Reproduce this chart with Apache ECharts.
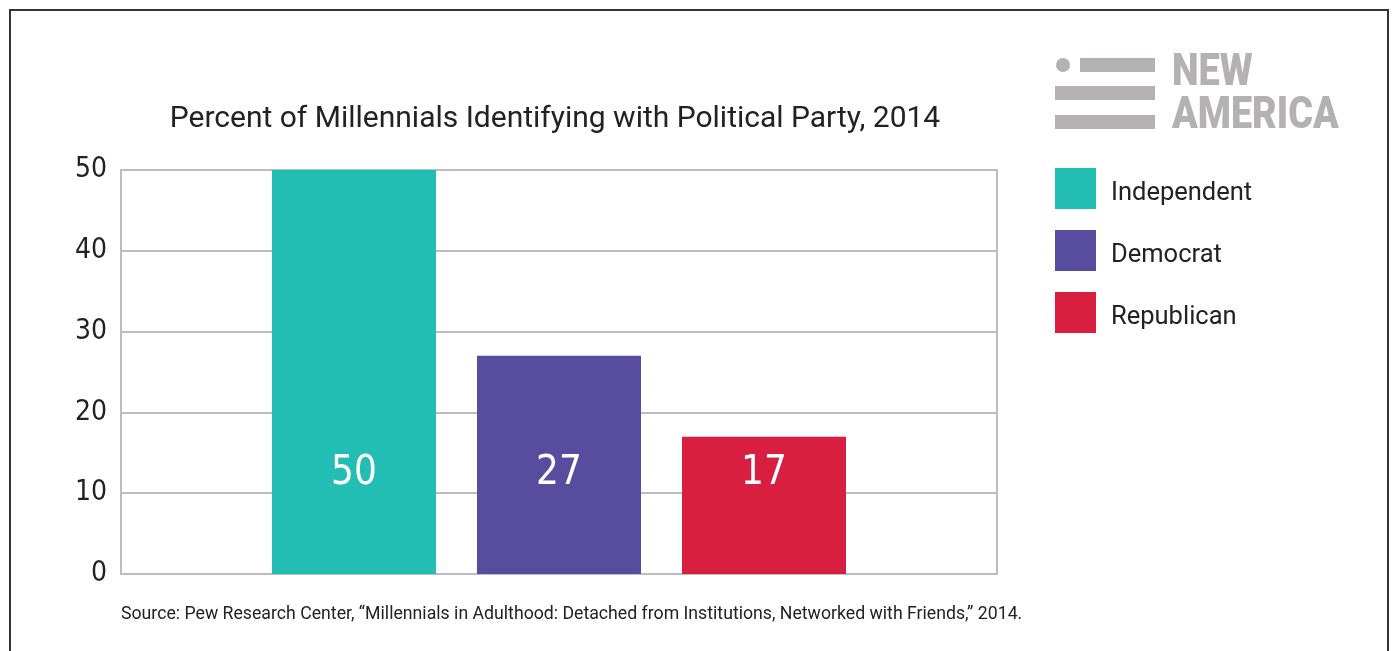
<!DOCTYPE html>
<html>
<head>
<meta charset="utf-8">
<script src="https://cdn.jsdelivr.net/npm/echarts@6/dist/echarts.min.js"></script>
<style>
html,body{margin:0;padding:0;background:#fff;}
#chart{width:1394px;height:651px;}
</style>
</head>
<body>
<div id="chart"></div>
<script>
const categories = [''];
const seriesNames = ['Independent', 'Democrat', 'Republican'];
const seriesValues = [[50], [27], [17]];
const seriesColors = ['#22bdb3', '#574c9e', '#d81f3f'];
const yTicks = { min: 0, max: 50, interval: 10 };
const titleText = 'Percent of Millennials Identifying with Political Party, 2014';
const sourceText = 'Source: Pew Research Center, \u201cMillennials in Adulthood: Detached from Institutions, Networked with Friends,\u201d 2014.';

const gridColor = '#bcbcc2';
const textFont = 'Roboto, "Noto Sans", sans-serif';
const narrowFont = '"DejaVu Sans Condensed", "Liberation Sans Narrow", sans-serif';
const logoColor = '#b4b1b3';

const chart = echarts.init(document.getElementById('chart'), null, { renderer: 'canvas' });

const series = seriesNames.map((name, i) => ({
  name: name,
  type: 'bar',
  data: seriesValues[i],
  barWidth: 164,
  barGap: '25%',
  itemStyle: { color: seriesColors[i] },
  label: {
    show: true,
    position: 'insideBottom',
    distance: 80,
    color: '#fff',
    fontFamily: narrowFont,
    fontSize: 40,
    formatter: '{c}'
  },
  emphasis: { disabled: true }
}));

chart.setOption({
  animation: false,
  backgroundColor: '#fff',
  title: {
    text: titleText,
    left: 555,
    textAlign: 'center',
    top: 104,
    padding: 0,
    textStyle: { fontFamily: textFont, fontWeight: 'normal', fontSize: 30, color: '#222' }
  },
  legend: {
    orient: 'vertical',
    left: 1055,
    top: 168,
    padding: 0,
    itemWidth: 41,
    itemHeight: 41,
    itemGap: 21,
    icon: 'rect',
    selectedMode: false,
    data: seriesNames,
    formatter: '{t|{name}}',
    textStyle: {
      fontFamily: textFont, fontSize: 25.5, color: '#222', padding: [0, 0, 0, 10],
      rich: { t: { fontFamily: textFont, fontSize: 25.5, color: '#222', padding: [10, 0, 0, 0] } }
    }
  },
  grid: {
    left: 121, right: 397, top: 170, bottom: 77,
    show: true, borderColor: gridColor, borderWidth: 2, backgroundColor: 'transparent'
  },
  xAxis: {
    type: 'category',
    data: categories,
    axisLine: { lineStyle: { color: gridColor, width: 2 } },
    axisTick: { show: false },
    axisLabel: { show: false }
  },
  yAxis: {
    type: 'value',
    min: yTicks.min, max: yTicks.max, interval: yTicks.interval,
    axisLine: { show: true, lineStyle: { color: gridColor, width: 2 } },
    axisTick: { show: false },
    splitLine: { lineStyle: { color: gridColor, width: 2 } },
    axisLabel: { margin: 14, fontFamily: narrowFont, fontSize: 28, color: '#222' }
  },
  graphic: [
    { type: 'rect', shape: { x: 10, y: 10, width: 1378, height: 700 }, style: { fill: 'none', stroke: '#333', lineWidth: 2 }, silent: true },
    { type: 'text', left: 121, top: 606, style: { text: sourceText, fontFamily: textFont, fontSize: 17.7, fill: '#222' } },
    { type: 'circle', shape: { cx: 1063, cy: 65, r: 7 }, style: { fill: logoColor } },
    { type: 'rect', shape: { x: 1080, y: 58, width: 75, height: 14 }, style: { fill: logoColor } },
    { type: 'rect', shape: { x: 1055, y: 86, width: 100, height: 14 }, style: { fill: logoColor } },
    { type: 'rect', shape: { x: 1055, y: 115, width: 100, height: 14 }, style: { fill: logoColor } },
    { type: 'text', x: 1172, y: 96, scaleX: 0.86, style: { text: 'NEW', fontFamily: 'Roboto', fontWeight: 900, fontSize: 44, fill: logoColor, textVerticalAlign: 'bottom' } },
    { type: 'text', x: 1172, y: 139, scaleX: 0.86, style: { text: 'AMERICA', fontFamily: 'Roboto', fontWeight: 900, fontSize: 44, fill: logoColor, textVerticalAlign: 'bottom' } }
  ],
  series: series
});
</script>
</body>
</html>
